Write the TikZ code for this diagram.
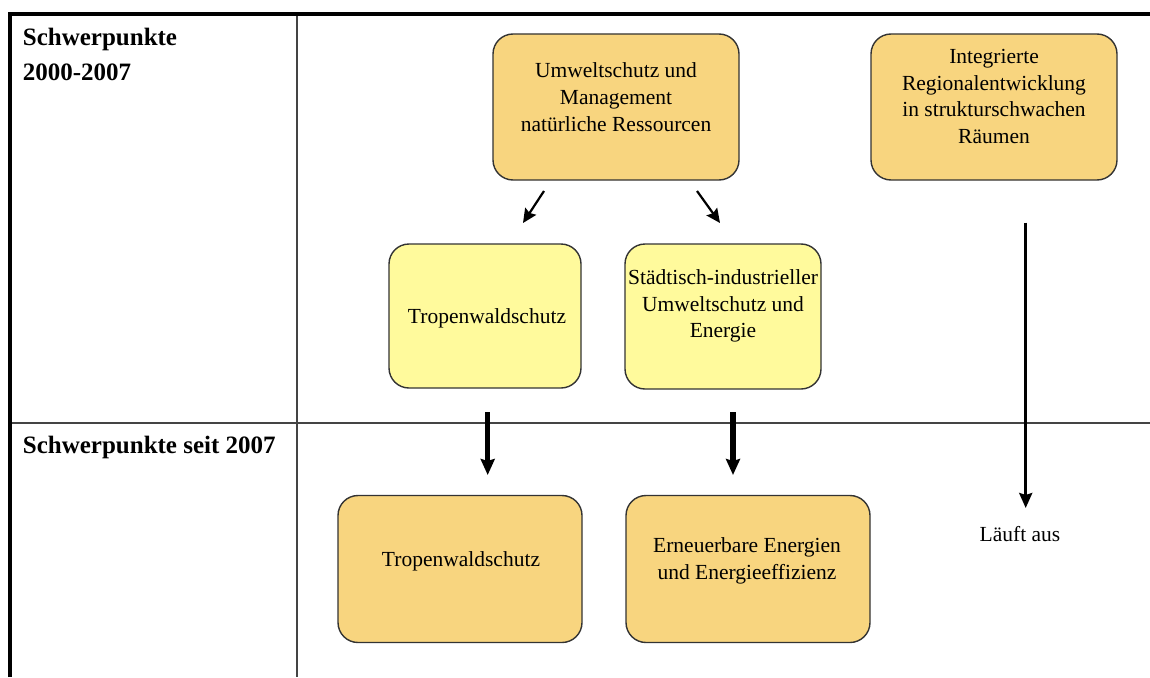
\documentclass[tikz,border=0pt]{standalone}
\usepackage{fontspec}
\setmainfont{Liberation Serif}
\usetikzlibrary{arrows.meta}
\definecolor{boxorange}{HTML}{F8D57F}
\definecolor{boxyellow}{HTML}{FFFA9C}
\definecolor{edgecol}{HTML}{333333}
\definecolor{rulecol}{HTML}{444444}
\begin{document}
\begin{tikzpicture}[x=1pt,y=-1pt,
  obox/.style={draw=edgecol,line width=1.4pt,fill=boxorange,rounded corners=20pt,minimum width=246pt,minimum height=146pt,inner sep=0pt},
  ybox/.style={obox,fill=boxyellow},
  btxt/.style={align=center,font=\fontsize{21.5}{26.8}\selectfont,inner sep=0pt},
  headtxt/.style={align=left,font=\fontsize{25}{35.7}\selectfont\bfseries,inner sep=0pt},
  thinarrow/.style={line width=2.2pt,-{Stealth[length=14pt,width=13pt,inset=2pt]}},
  thickarrow/.style={line width=5.5pt,-{Stealth[length=16pt,width=14pt,inset=2pt]}},
  longarrow/.style={line width=2.8pt,-{Stealth[length=15pt,width=13pt,inset=2pt]}},
  gridline/.style={draw=rulecol,line width=1.7pt}
]
\useasboundingbox (0,0) rectangle (1150,677);
% grid
\draw[gridline] (297,13.7) -- (297,677);
\draw[gridline] (10.3,423.3) -- (1150,423.3);
\draw[line width=4pt] (10.3,677) -- (10.3,13.7) -- (1150,13.7);
% headings
\node[headtxt,anchor=base west] (h1) at (22.7,80.7) {Schwerpunkte\\2000-2007};
\node[headtxt,anchor=base west] (h2) at (22.7,453) {Schwerpunkte seit 2007};
% boxes
\node[obox] (umw) at (616,107) {};
\node[obox] (integ) at (994,107) {};
\node[ybox,minimum width=192pt,minimum height=144pt] (trop1) at (485,316) {};
\node[ybox,minimum width=196pt,minimum height=145pt] (stadt) at (723,316.5) {};
\node[obox,minimum width=244pt,minimum height=147pt] (trop2) at (460,569) {};
\node[obox,minimum width=244pt,minimum height=147pt] (ern) at (748,569) {};
% box texts
\node[btxt] (umwT) at (616,97) {Umweltschutz und\\Management\\natürliche Ressourcen};
\node[btxt] (integT) at (994,96.5) {Integrierte\\Regionalentwicklung\\in strukturschwachen\\Räumen};
\node[btxt] (trop1T) at (487,318) {Tropenwaldschutz};
\node[btxt] (stadtT) at (723,306) {Städtisch-industrieller\\Umweltschutz und\\Energie};
\node[btxt] (trop2T) at (461,561) {Tropenwaldschutz};
\node[btxt] (ernT) at (747,561) {Erneuerbare Energien\\und Energieeffizienz};
\node[btxt,anchor=base] (aus) at (1020,541.7) {Läuft aus};
% arrow end points
\coordinate (a1s) at (544,191);
\coordinate (a1e) at (523,223);
\coordinate (a2s) at (697,191);
\coordinate (a2e) at (720,223);
\coordinate (b1s) at (487.7,412);
\coordinate (b1e) at (487.7,475);
\coordinate (b2s) at (733,412);
\coordinate (b2e) at (733,475);
\coordinate (cs) at (1025.7,222.7);
\coordinate (ce) at (1025.7,508);
% arrows
\draw[thinarrow] (a1s) -- (a1e);
\draw[thinarrow] (a2s) -- (a2e);
\draw[thickarrow] (b1s) -- (b1e);
\draw[thickarrow] (b2s) -- (b2e);
\draw[longarrow] (cs) -- (ce);
\end{tikzpicture}
\end{document}
